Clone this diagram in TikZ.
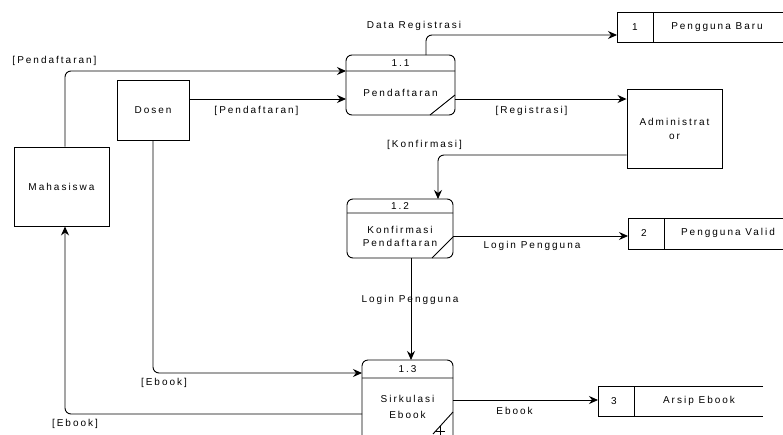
\documentclass[tikz,border=0pt]{standalone}
\usepackage{fontspec}
\newfontfamily\dfd[LetterSpace=20]{Liberation Sans}
\usetikzlibrary{arrows.meta,calc}
\begin{document}
\begin{tikzpicture}[x=1pt,y=-1pt,
  every node/.style={font=\dfd\fontsize{10}{12}\selectfont},
  ent/.style={draw,line width=0.9pt,minimum width=#1,inner sep=0pt,align=center},
  proc/.style={draw,line width=0.9pt,rounded corners=6pt},
  ln/.style={line width=0.9pt,rounded corners=6pt},
  arr/.style={ln,-{Stealth[length=9pt,width=8pt,inset=3pt]}},
  lbl/.style={inner sep=1pt},
  txt/.style={inner sep=0pt,align=center}]
\useasboundingbox (0,0) rectangle (783,434);
\clip (0,0) rectangle (783,434);
% external entities
\node[ent=95pt,minimum height=79pt] (mhs) at (61.5,186.5) {Mahasiswa};
\node[ent=72pt,minimum height=60pt] (dosen) at (153,110) {Dosen};
\node[ent=95pt,minimum height=79pt] (admin) at (674.5,128.5) {Administrat\\[2pt]or};
% processes
\draw[proc] (346,55) rectangle (455,115);
\draw[line width=0.9pt] (346,71) -- (455,71) (430,115) -- (455,95);
\node[txt] (n11) at (400.5,63) {1.1};
\node[txt] (t11) at (400.5,93) {Pendaftaran};
\draw[proc] (347,199) rectangle (453,258);
\draw[line width=0.9pt] (347,213) -- (453,213) (432,258) -- (453,237);
\node[txt] (n12) at (400,206) {1.2};
\node[txt] (t12) at (400,236.5) {Konfirmasi\\[1pt]Pendaftaran};
\draw[proc] (362,360) rectangle (453,444);
\draw[line width=0.9pt] (362,378) -- (453,378) (433,434) -- (453,412);
\draw[line width=0.9pt] (440,426) -- (440,436) (435,431) -- (445,431);
\node[txt] (n13) at (407.5,369) {1.3};
\node[txt] (t13) at (407.5,406.5) {Sirkulasi\\[4pt]Ebook};
% data stores
\draw[line width=0.9pt] (790,12) -- (617,12) -- (617,42) -- (790,42) (653,12) -- (653,42);
\node[txt] (s1n) at (635,27) {1};
\node[txt] (s1t) at (717,27) {Pengguna Baru};
\draw[line width=0.9pt] (790,218) -- (628,218) -- (628,249) -- (790,249) (664,218) -- (664,249);
\node[txt] (s2n) at (644,233) {2};
\node[txt] (s2t) at (728,233) {Pengguna Valid};
\draw[line width=0.9pt] (763,386) -- (598,386) -- (598,416) -- (763,416) (634,386) -- (634,416);
\node[txt] (s3n) at (614,401) {3};
\node[txt] (s3t) at (699,401) {Arsip Ebook};
% flows
\draw[arr] (mhs.north -| 65,0) |- (346,71);
\node[lbl] (l1) at (54.5,61) {[Pendaftaran]};
\draw[arr] (dosen.east |- 0,99) -- (346,99);
\node[lbl] (l2) at (256.5,111) {[Pendaftaran]};
\draw[arr] (455,99) -- (admin.west |- 0,99);
\node[lbl] (l3) at (531.5,111) {[Registrasi]};
\draw[arr] (426,55) |- (617,35);
\node[lbl] (l4) at (414,26) {Data Registrasi};
\draw[arr] (admin.west |- 0,155) -| (438,199);
\node[lbl] (l5) at (424.5,145) {[Konfirmasi]};
\draw[arr] (453,236) -- (628,236);
\node[lbl] (l6) at (532,246) {Login Pengguna};
\draw[arr] (411,258) -- (411,360);
\node[lbl] (l7) at (410,300) {Login Pengguna};
\draw[arr] (dosen.south) |- (362,373);
\node[lbl] (l8) at (164,383) {[Ebook]};
\draw[arr] (362,414) -| (mhs.south -| 65,0);
\node[lbl] (l9) at (75,424) {[Ebook]};
\draw[arr] (453,400) -- (598,400);
\node[lbl] (l10) at (514.5,411) {Ebook};
\end{tikzpicture}
\end{document}
